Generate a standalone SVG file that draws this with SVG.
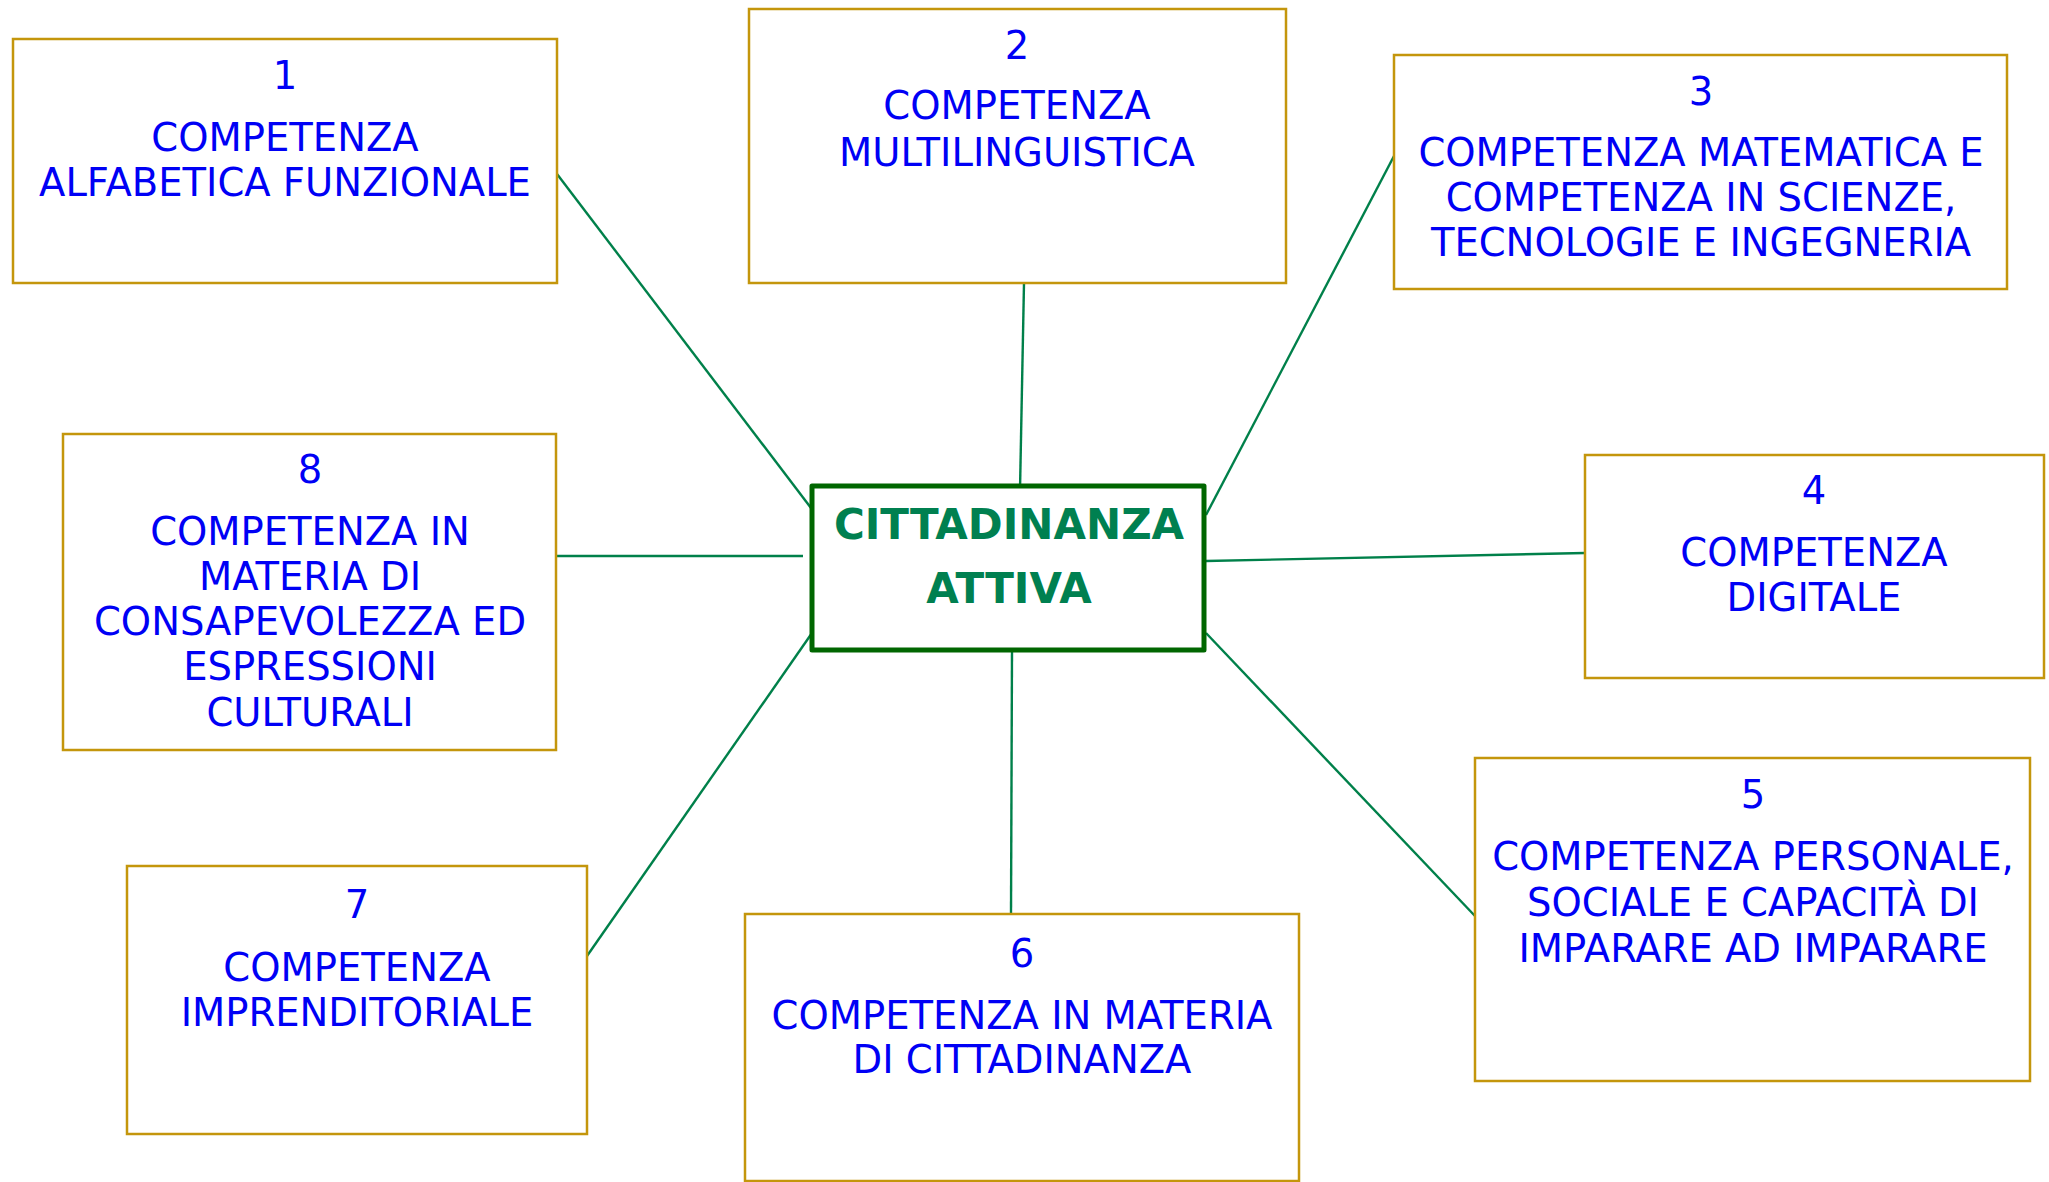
<svg xmlns="http://www.w3.org/2000/svg" width="2049" height="1182" viewBox="0 0 2049 1182">
<style>
.box{fill:#fff;stroke:#C4960C;stroke-width:2.5}
.t{font-family:"DejaVu Sans","Verdana",sans-serif;font-size:38.5px;fill:#0000F5;text-anchor:middle}
.c{font-family:"DejaVu Sans","Verdana",sans-serif;font-size:42px;font-weight:bold;fill:#008050;text-anchor:middle}
.ln{stroke:#00804A;stroke-width:2.4;fill:none}
</style>
<rect width="2049" height="1182" fill="#fff"/>
<g id="connectors">
<line class="ln" x1="557" y1="174" x2="811" y2="508"/>
<line class="ln" x1="1024" y1="283" x2="1020" y2="490"/>
<line class="ln" x1="1394" y1="156" x2="1206" y2="515"/>
<line class="ln" x1="1206" y1="561" x2="1585" y2="553"/>
<line class="ln" x1="1206" y1="633" x2="1475" y2="916"/>
<line class="ln" x1="1012" y1="650" x2="1011" y2="914"/>
<line class="ln" x1="812" y1="633" x2="587" y2="956"/>
<line class="ln" x1="557" y1="556" x2="803" y2="556"/>
</g>
<g id="center">
<rect x="812" y="486" width="392" height="164" fill="#fff" stroke="#006600" stroke-width="5" stroke-linejoin="round"/>
<text class="c" x="1009" y="539">CITTADINANZA</text>
<text class="c" x="1009" y="603">ATTIVA</text>
</g>
<g id="node1">
<rect class="box" x="13" y="39" width="544" height="244"/>
<text class="t" x="285" y="89">1</text>
<text class="t" x="285" y="151">COMPETENZA</text>
<text class="t" x="285" y="196">ALFABETICA FUNZIONALE</text>
</g>
<g id="node2">
<rect class="box" x="749" y="9" width="537" height="274"/>
<text class="t" x="1017" y="59">2</text>
<text class="t" x="1017" y="119">COMPETENZA</text>
<text class="t" x="1017" y="166">MULTILINGUISTICA</text>
</g>
<g id="node3">
<rect class="box" x="1394" y="55" width="613" height="234"/>
<text class="t" x="1701" y="105">3</text>
<text class="t" x="1701" y="166">COMPETENZA MATEMATICA E</text>
<text class="t" x="1701" y="211">COMPETENZA IN SCIENZE,</text>
<text class="t" x="1701" y="256">TECNOLOGIE E INGEGNERIA</text>
</g>
<g id="node4">
<rect class="box" x="1585" y="455" width="459" height="223"/>
<text class="t" x="1814" y="504">4</text>
<text class="t" x="1814" y="566">COMPETENZA</text>
<text class="t" x="1814" y="611">DIGITALE</text>
</g>
<g id="node5">
<rect class="box" x="1475" y="758" width="555" height="323"/>
<text class="t" x="1753" y="808">5</text>
<text class="t" x="1753" y="870">COMPETENZA PERSONALE,</text>
<text class="t" x="1753" y="916">SOCIALE E CAPACITÀ DI</text>
<text class="t" x="1753" y="962">IMPARARE AD IMPARARE</text>
</g>
<g id="node6">
<rect class="box" x="745" y="914" width="554" height="267"/>
<text class="t" x="1022" y="967">6</text>
<text class="t" x="1022" y="1029">COMPETENZA IN MATERIA</text>
<text class="t" x="1022" y="1073">DI CITTADINANZA</text>
</g>
<g id="node7">
<rect class="box" x="127" y="866" width="460" height="268"/>
<text class="t" x="357" y="918">7</text>
<text class="t" x="357" y="981">COMPETENZA</text>
<text class="t" x="357" y="1026">IMPRENDITORIALE</text>
</g>
<g id="node8">
<rect class="box" x="63" y="434" width="493" height="316"/>
<text class="t" x="310" y="483">8</text>
<text class="t" x="310" y="545">COMPETENZA IN</text>
<text class="t" x="310" y="590">MATERIA DI</text>
<text class="t" x="310" y="635">CONSAPEVOLEZZA ED</text>
<text class="t" x="310" y="680">ESPRESSIONI</text>
<text class="t" x="310" y="726">CULTURALI</text>
</g>
</svg>
